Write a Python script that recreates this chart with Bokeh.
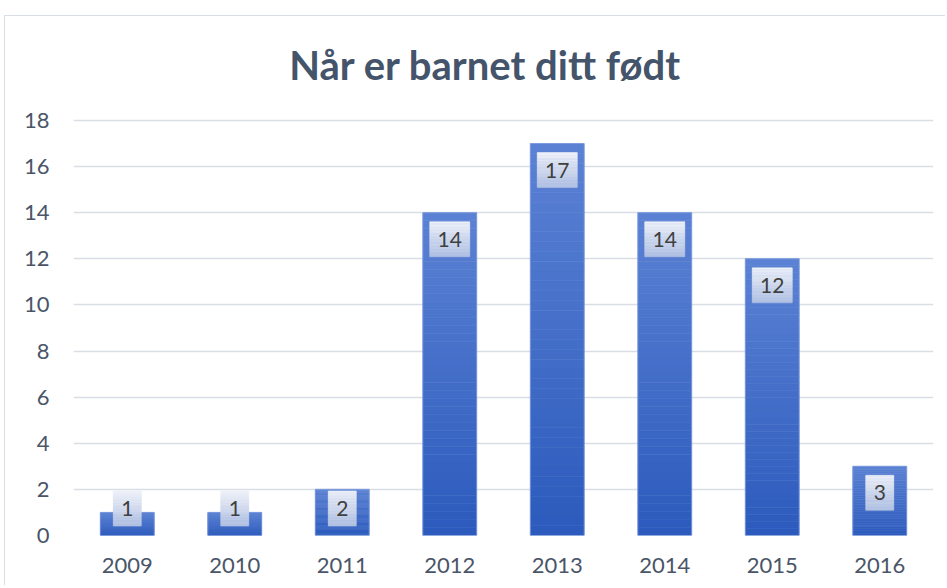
from bokeh.plotting import figure
from bokeh.models import ColumnDataSource, FactorRange, Range1d, FixedTicker
from bokeh.core.properties import value
from bokeh.embed import file_html
from bokeh.resources import INLINE

# ---- data ----
years = ["2009", "2010", "2011", "2012", "2013", "2014", "2015", "2016"]
counts = [1, 1, 2, 14, 17, 14, 12, 3]
y_ticks = [0, 2, 4, 6, 8, 10, 12, 14, 16, 18]
title_text = "Når er barnet ditt født"

# ---- layout ----
W, H = 941, 570
B_LEFT, B_RIGHT, B_TOP, B_BOTTOM = 68, 13, 2, 51
AXIS_MAX = 18
AXIS_PX = 415                      # pixel height of the 0..18 span
ppu = AXIS_PX / AXIS_MAX           # pixels per data unit (y)
frame_w = W - B_LEFT - B_RIGHT
frame_h = H - B_TOP - B_BOTTOM
view_max = frame_h / ppu           # frame extends above 18 to host the title
cat_px = frame_w / len(years)      # pixels per category

FONT = "Lato"
TITLE_COLOR = "#44546a"
TICK_COLOR = "#4a5568"


def hex2rgb(h):
    h = h.lstrip("#")
    return tuple(int(h[i:i + 2], 16) for i in (0, 2, 4))


def lerp(c1, c2, t):
    a, b = hex2rgb(c1), hex2rgb(c2)
    return "#%02x%02x%02x" % tuple(int(round(a[k] + (b[k] - a[k]) * t)) for k in range(3))


p = figure(x_range=FactorRange(factors=years), y_range=Range1d(0, view_max),
           width=W, height=H, output_backend="svg", toolbar_location=None,
           min_border_left=B_LEFT, min_border_right=B_RIGHT,
           min_border_top=B_TOP, min_border_bottom=B_BOTTOM,
           background_fill_color="white", border_fill_color="white",
           outline_line_color=None, margin=(15, 0, 0, 4),
           styles={"border-top": "1px solid #d9dde5", "border-left": "1px solid #d9dde5"})

# ---- gradient bars (stacked slices) ----
BAR_TOP, BAR_BOT = "#5b81d3", "#2c5bbd"
N = 40
bx, bb, bt, bc = [], [], [], []
for yr, v in zip(years, counts):
    for i in range(N):
        bx.append(yr)
        bb.append(v * i / N)
        bt.append(v * (i + 1) / N)
        bc.append(lerp(BAR_BOT, BAR_TOP, (i + 0.5) / N))
p.vbar(x="x", bottom="b", top="t", width=0.5, fill_color="c", line_color="c", line_width=0.6,
       source=ColumnDataSource(dict(x=bx, b=bb, t=bt, c=bc)))
p.vbar(x=years, top=counts, width=0.5, fill_color=None, line_color="#7f9de0", line_alpha=0.7)

# ---- data label boxes ----
BOX_TOP, BOX_BOT = "#eef1f9", "#b1c1e3"
M = 24
lx, lb, lt, lc, lw = [], [], [], [], []
label_y = []
hh = 17.5 / ppu
for yr, v in zip(years, counts):
    yc = max(v - 26.5 / ppu, 27 / ppu)
    label_y.append(yc)
    wpx = 16 + 12 * len(str(v))
    for i in range(M):
        lx.append(yr)
        lb.append(yc - hh + 2 * hh * i / M)
        lt.append(yc - hh + 2 * hh * (i + 1) / M)
        lc.append(lerp(BOX_BOT, BOX_TOP, (i + 0.5) / M))
        lw.append(wpx / cat_px)
p.vbar(x="x", bottom="b", top="t", width="w", fill_color="c", line_color="c", line_width=0.6,
       source=ColumnDataSource(dict(x=lx, b=lb, t=lt, c=lc, w=lw)))
p.text(x=years, y=label_y, text=[str(v) for v in counts], text_font=value(FONT),
       text_font_size="21px", text_color="#404040", text_align="center", text_baseline="middle")

# ---- axes / grid ----
p.yaxis.ticker = FixedTicker(ticks=y_ticks)
p.ygrid.ticker = FixedTicker(ticks=y_ticks)
p.xgrid.grid_line_color = None
p.ygrid.grid_line_color = "#d8dde6"
p.ygrid.grid_line_width = 1.4
for ax in (p.xaxis, p.yaxis):
    ax.axis_line_color = None
    ax.major_tick_line_color = None
    ax.minor_tick_line_color = None
    ax.major_label_text_font = FONT
    ax.major_label_text_font_size = "22px"
    ax.major_label_text_color = TICK_COLOR
p.yaxis.major_label_standoff = 18
p.xaxis.major_label_standoff = 16

# ---- title (text glyph in the space above the 18 line) ----
mid = len(years) // 2 - 1
title_dx = 485 - 5 - B_LEFT - (mid + 0.5) * cat_px     # screen offset from a category centre
title_y = AXIS_MAX + (535 - 64 - AXIS_PX) / ppu
p.text(x=[years[mid]], y=[title_y], text=[title_text], x_offset=title_dx,
       text_font=value(FONT), text_font_size="40px", text_font_style="bold",
       text_color=TITLE_COLOR, text_align="center", text_baseline="alphabetic")

open("out.html", "w").write(file_html(p, INLINE))
